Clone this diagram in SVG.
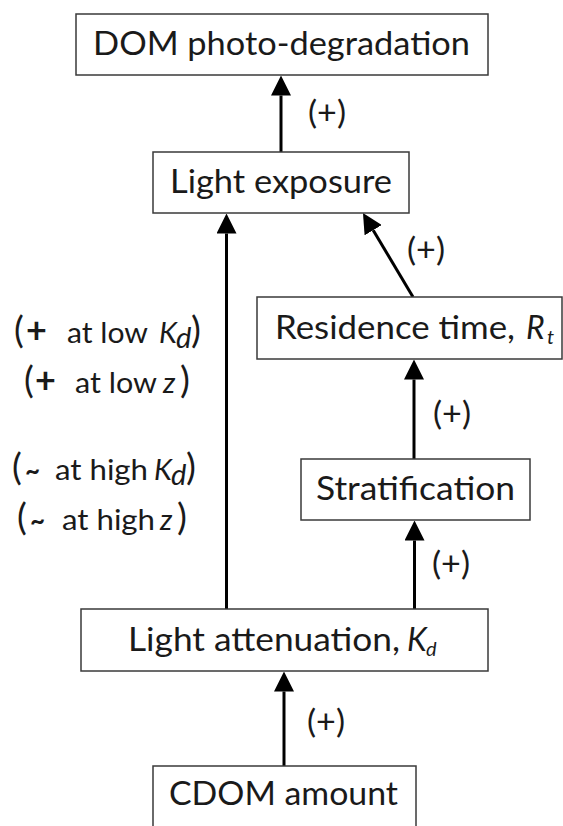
<svg xmlns="http://www.w3.org/2000/svg" width="563" height="826" viewBox="0 0 563 826">
<style>
.box{fill:#fff;stroke:#3a3a3a;stroke-width:1.5}
.lbl{font-family:Lato,"Open Sans",sans-serif;font-size:32px;fill:#1a1a1a}
.pm{font-family:Lato,"Open Sans",sans-serif;font-size:32px;fill:#1a1a1a}
.sub{font-size:20px}
.ssub{font-size:17px}
.it{font-style:italic}
.conn{stroke:#000;stroke-width:3;fill:none;marker-end:url(#ah)}
.side{font-family:Lato,"Open Sans",sans-serif;font-size:29px;fill:#1a1a1a}
.par{font-size:37px}
.pl{font-size:36px;font-weight:bold}
.tl{font-size:26px;font-weight:bold}
</style>
<defs>
<marker id="ah" viewBox="0 0 20 20" refX="0" refY="10" markerWidth="20" markerHeight="20" markerUnits="userSpaceOnUse" orient="auto">
<path d="M0,0 L20,10 L0,20 z" fill="#000"/>
</marker>
</defs>
<rect width="563" height="826" fill="#fff"/>
<g id="connectors">
<line class="conn" x1="281" y1="152" x2="281" y2="95.5"/>
<line class="conn" x1="226.5" y1="609" x2="226.5" y2="233.5"/>
<line class="conn" x1="413" y1="297" x2="373.2" y2="230.2"/>
<line class="conn" x1="414" y1="459" x2="414" y2="379.5"/>
<line class="conn" x1="414.5" y1="609" x2="414.5" y2="540.5"/>
<line class="conn" x1="284" y1="766" x2="284" y2="691.5"/>
<text class="pm" x="308" y="124" textLength="38" lengthAdjust="spacingAndGlyphs">(+)</text>
<text class="pm" x="407" y="261" textLength="38" lengthAdjust="spacingAndGlyphs">(+)</text>
<text class="pm" x="433" y="425" textLength="38" lengthAdjust="spacingAndGlyphs">(+)</text>
<text class="pm" x="432" y="575" textLength="38" lengthAdjust="spacingAndGlyphs">(+)</text>
<text class="pm" x="307" y="733" textLength="38" lengthAdjust="spacingAndGlyphs">(+)</text>
</g>
<g id="dom">
<rect class="box" x="76" y="14" width="412" height="61"/>
<text class="lbl" x="93" y="55" textLength="377" lengthAdjust="spacingAndGlyphs">DOM photo-degradation</text>
</g>
<g id="exposure">
<rect class="box" x="153" y="152" width="256" height="61"/>
<text class="lbl" x="170" y="193" textLength="222" lengthAdjust="spacingAndGlyphs">Light exposure</text>
</g>
<g id="residence">
<rect class="box" x="257" y="297" width="305" height="62"/>
<text class="lbl" x="275" y="339" textLength="240" lengthAdjust="spacingAndGlyphs">Residence time,</text>
<text class="lbl it" x="526" y="339">R</text>
<text class="lbl it sub" x="547" y="344">t</text>
</g>
<g id="stratification">
<rect class="box" x="301" y="459" width="229" height="61"/>
<text class="lbl" x="316" y="500" textLength="199" lengthAdjust="spacingAndGlyphs">Stratification</text>
</g>
<g id="attenuation">
<rect class="box" x="81" y="609" width="407" height="62"/>
<text class="lbl" x="128" y="651" textLength="272" lengthAdjust="spacingAndGlyphs">Light attenuation,</text>
<text class="lbl it" x="407" y="651">K</text>
<text class="lbl it sub" x="426" y="656">d</text>
</g>
<g id="cdom">
<rect class="box" x="153" y="766" width="263" height="64"/>
<text class="lbl" x="169" y="805" textLength="229" lengthAdjust="spacingAndGlyphs">CDOM amount</text>
</g>
<g id="side-note">
<text class="side par" x="14" y="343">(</text>
<text class="side pl" x="26" y="343">+</text>
<text class="side" x="67" y="343" textLength="81" lengthAdjust="spacingAndGlyphs">at low</text>
<text class="side it" x="159" y="343">K</text>
<text class="side it ssub" x="176" y="348">d</text>
<text class="side par" x="191" y="343">)</text>
<text class="side par" x="24" y="393">(</text>
<text class="side pl" x="35" y="393">+</text>
<text class="side" x="75" y="393" textLength="82" lengthAdjust="spacingAndGlyphs">at low</text>
<text class="side it" x="163" y="393">z</text>
<text class="side par" x="180" y="393">)</text>
<text class="side par" x="12" y="480">(</text>
<text class="side tl" x="25" y="480">~</text>
<text class="side" x="55" y="480" textLength="93" lengthAdjust="spacingAndGlyphs">at high</text>
<text class="side it" x="154" y="480">K</text>
<text class="side it ssub" x="171" y="485">d</text>
<text class="side par" x="186" y="480">)</text>
<text class="side par" x="17" y="530">(</text>
<text class="side tl" x="30" y="530">~</text>
<text class="side" x="62" y="530" textLength="93" lengthAdjust="spacingAndGlyphs">at high</text>
<text class="side it" x="160" y="530">z</text>
<text class="side par" x="177" y="530">)</text>
</g>
</svg>
